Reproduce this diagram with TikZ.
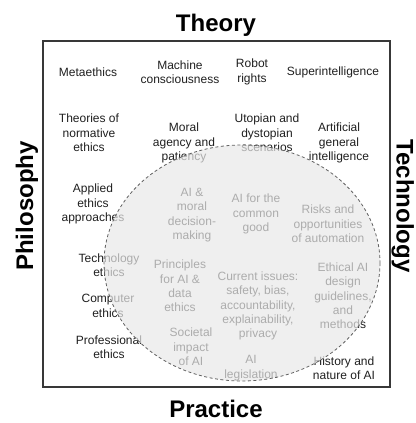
\documentclass[tikz,border=0pt]{standalone}
\usepackage{fontspec}
\setmainfont{Liberation Sans}
\begin{document}
\begin{tikzpicture}[x=1pt,y=-1pt,
  item/.style={align=center,inner sep=0pt,text=black!88,font=\fontsize{12}{14.3}\selectfont},
  axis/.style={inner sep=0pt,text=black,font=\fontsize{24}{26}\selectfont\bfseries},
  overlay/.style={fill=black!9,fill opacity=0.7,draw=none},
  rim/.style={draw=black!62,line width=0.8pt,dash pattern=on 3pt off 2.5pt}]
\useasboundingbox (0,0) rectangle (415,423);
\node[draw=black!78,line width=1.2pt,minimum width=347pt,minimum height=346pt,inner sep=0pt] (frame) at (216.5,214) {};
\node[axis,anchor=base] (theory) at (216,31) {Theory};
\node[axis,anchor=base] (practice) at (216,417) {Practice};
\node[axis,anchor=base,rotate=90] (philo) at (33,206) {Philosophy};
\node[axis,anchor=base,rotate=-90] (tech) at (396.5,206) {Technology};
% items
\node[item] (meta) at (88,72) {Metaethics};
\node[item] (mc) at (180,72) {Machine\\consciousness};
\node[item] (rr) at (252,72) {Robot\\rights};
\node[item] (si) at (333,72) {Superintelligence};
\node[item] (tne) at (89,133) {Theories of\\normative\\ethics};
\node[item] (map) at (184,143) {Moral\\agency and\\patiency};
\node[item] (uds) at (267,133) {Utopian and\\dystopian\\scenarios};
\node[item] (agi) at (339,143) {Artificial\\general\\intelligence};
\node[item] (aea) at (93,204) {Applied\\ethics\\approaches};
\node[item] (amd) at (192,215) {AI \&\\moral\\decision-\\making};
\node[item] (acg) at (256,214) {AI for the\\common\\good};
\node[item] (roa) at (328,224) {Risks and\\opportunities\\of automation};
\node[item] (te) at (109,265) {Technology\\ethics};
\node[item] (pad) at (180,286) {Principles\\for AI \&\\data\\ethics};
\node[item] (ci) at (258,306) {Current issues:\\safety, bias,\\accountability,\\explainability,\\privacy};
\node[item] (edg) at (343,296) {Ethical AI\\design\\guidelines,\\and\\methods};
\node[item] (ce) at (108,306) {Computer\\ethics};
\node[item] (pe) at (109,347) {Professional\\ethics};
\node[item] (sia) at (191,347) {Societal\\impact\\of AI};
\node[item] (al) at (251,368) {AI\\legislation};
\node[item] (hn) at (344,368) {History and\\nature of AI};
% overlay circle
\path[overlay] (242,263) ellipse [x radius=138, y radius=118];
\draw[rim] (242,263) ellipse [x radius=138, y radius=118];
\end{tikzpicture}
\end{document}
